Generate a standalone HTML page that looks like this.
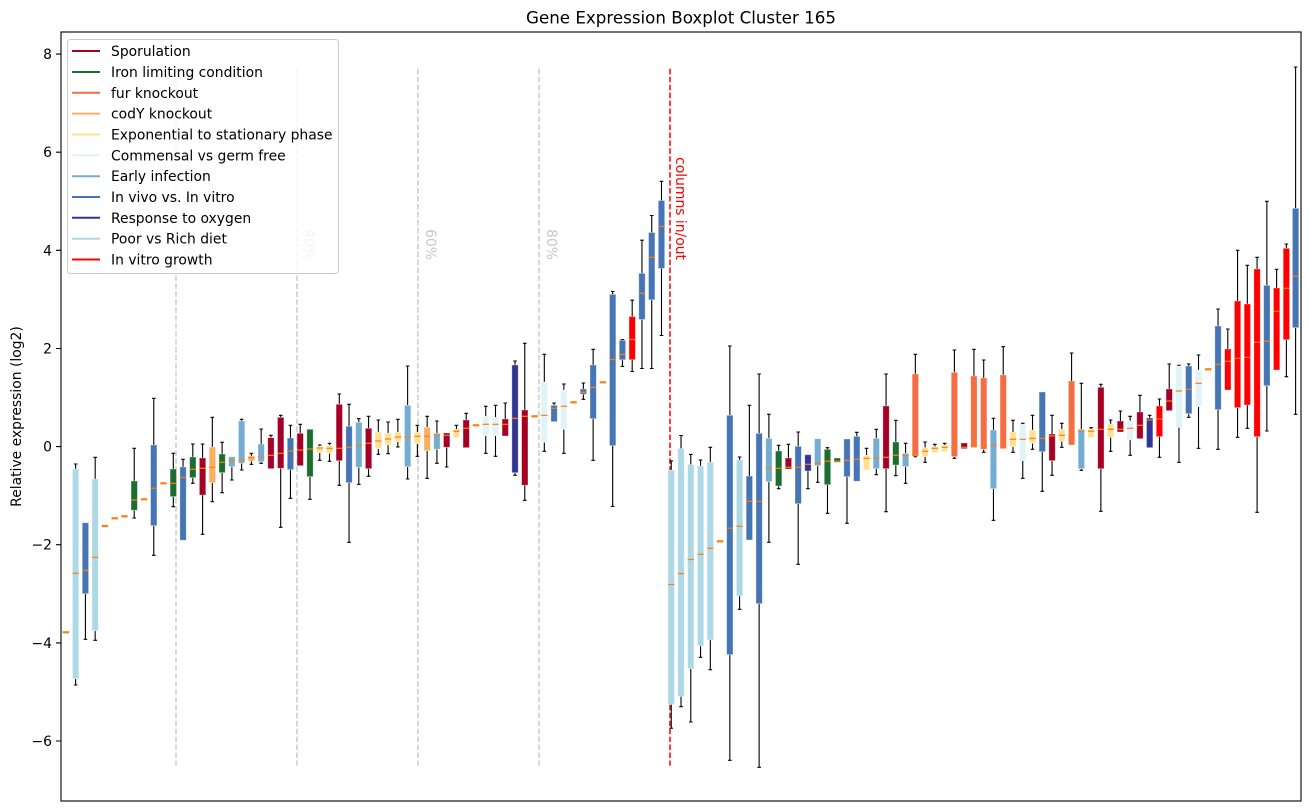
<!DOCTYPE html>
<html><head><meta charset="utf-8"><style>
body{margin:0;background:#fff}
svg{display:block}
text{font-family:"DejaVu Sans","Liberation Sans",sans-serif}
.w{stroke:#000;stroke-width:1.1;fill:none}
.m{stroke:#ff7f0e;stroke-width:1.2;fill:none}
.d{stroke:#ff7f0e;stroke-width:2.2;fill:none}
.b{stroke:#fff;stroke-opacity:.45;stroke-width:.8}
.S{fill:#a50026}.G{fill:#1b6e30}.F{fill:#f46d43}.C{fill:#fdae61}.E{fill:#fee090}.M{fill:#e0f3f8}
.I{fill:#74add1}.V{fill:#4575b4}.O{fill:#313695}.P{fill:#add8e6}.R{fill:#ff0000}
</style></head><body>
<svg width="1309" height="812" viewBox="0 0 1309 812" xmlns="http://www.w3.org/2000/svg">
<rect width="1309" height="812" fill="#fff"/>
<text x="681" y="23.5" font-size="16.7" text-anchor="middle">Gene Expression Boxplot Cluster 165</text>

<g stroke="#cccccc" stroke-width="1.5" stroke-dasharray="5.55 2.4" fill="none">
<path d="M176 68.8V765.6M297 68.8V765.6M418 68.8V765.6M539 68.8V765.6"/>
</g>
<path d="M670 68.8V765.6" stroke="#ff0000" stroke-width="1.5" stroke-dasharray="5.55 2.4" fill="none"/>
<g font-size="13.9" fill="#c8c8c8">
<text transform="translate(184 260) rotate(90)" text-anchor="end">20%</text>
<text transform="translate(305 260) rotate(90)" text-anchor="end">40%</text>
<text transform="translate(426 260) rotate(90)" text-anchor="end">60%</text>
<text transform="translate(547 260) rotate(90)" text-anchor="end">80%</text>
</g>
<text transform="translate(676 260) rotate(90)" text-anchor="end" font-size="13.9" fill="#ff0000">columns in/out</text>

<g>
<g transform="translate(65.88)"><path class="d" d="M-3.2 632.3H3.2"/></g>
<g transform="translate(75.65)"><path class="w" d="M0 464V469M0 678.7V685M-1.8 464h3.6M-1.8 685h3.6"/><path class="b P" d="M-3.2 469H3.2V678.7H-3.2Z"/><path class="m" d="M-3.2 573.3H3.2"/></g>
<g transform="translate(85.41)"><path class="w" d="M0 593.7V639.3M-1.8 639.3h3.6"/><path class="b V" d="M-3.2 522.7H3.2V593.7H-3.2Z"/><path class="m" d="M-3.2 570.3H3.2"/></g>
<g transform="translate(95.18)"><path class="w" d="M0 457.3V479M0 630.7V640.3M-1.8 457.3h3.6M-1.8 640.3h3.6"/><path class="b P" d="M-3.2 479H3.2V630.7H-3.2Z"/><path class="m" d="M-3.2 557.3H3.2"/></g>
<g transform="translate(104.94)"><path class="d" d="M-3.2 526H3.2"/></g>
<g transform="translate(114.70)"><path class="d" d="M-3.2 518.3H3.2"/></g>
<g transform="translate(124.47)"><path class="d" d="M-3.2 516.3H3.2"/></g>
<g transform="translate(134.23)"><path class="w" d="M0 448.3V481M0 510.3V518M-1.8 448.3h3.6M-1.8 518h3.6"/><path class="b G" d="M-3.2 481H3.2V510.3H-3.2Z"/><path class="m" d="M-3.2 500H3.2"/></g>
<g transform="translate(144.00)"><path class="d" d="M-3.2 499.3H3.2"/></g>
<g transform="translate(153.76)"><path class="w" d="M0 398.3V445M0 525.7V555.3M-1.8 398.3h3.6M-1.8 555.3h3.6"/><path class="b V" d="M-3.2 445H3.2V525.7H-3.2Z"/><path class="m" d="M-3.2 488.3H3.2"/></g>
<g transform="translate(163.52)"><path class="d" d="M-3.2 483.3H3.2"/></g>
<g transform="translate(173.29)"><path class="w" d="M0 453.3V469M0 496.7V506.7M-1.8 453.3h3.6M-1.8 506.7h3.6"/><path class="b G" d="M-3.2 469H3.2V496.7H-3.2Z"/><path class="m" d="M-3.2 483.3H3.2"/></g>
<g transform="translate(183.05)"><path class="w" d="M0 459.3V467M-1.8 459.3h3.6"/><path class="b V" d="M-3.2 467H3.2V540.3H-3.2Z"/><path class="m" d="M-3.2 477.3H3.2"/></g>
<g transform="translate(192.82)"><path class="w" d="M0 444V457M0 477.7V483.3M-1.8 444h3.6M-1.8 483.3h3.6"/><path class="b G" d="M-3.2 457H3.2V477.7H-3.2Z"/><path class="m" d="M-3.2 469.3H3.2"/></g>
<g transform="translate(202.58)"><path class="w" d="M0 444V458M0 495V534.3M-1.8 444h3.6M-1.8 534.3h3.6"/><path class="b S" d="M-3.2 458H3.2V495H-3.2Z"/><path class="m" d="M-3.2 468.3H3.2"/></g>
<g transform="translate(212.34)"><path class="w" d="M0 417.3V447M0 482.7V501.7M-1.8 417.3h3.6M-1.8 501.7h3.6"/><path class="b C" d="M-3.2 447H3.2V482.7H-3.2Z"/><path class="m" d="M-3.2 467.3H3.2"/></g>
<g transform="translate(222.11)"><path class="w" d="M0 442.3V454M0 472.7V492.7M-1.8 442.3h3.6M-1.8 492.7h3.6"/><path class="b G" d="M-3.2 454H3.2V472.7H-3.2Z"/><path class="m" d="M-3.2 462.3H3.2"/></g>
<g transform="translate(231.87)"><path class="w" d="M0 466.7V480M-1.8 480h3.6"/><path class="b I" d="M-3.2 456.7H3.2V466.7H-3.2Z"/><path class="m" d="M-3.2 460.3H3.2"/></g>
<g transform="translate(241.64)"><path class="w" d="M0 419.3V421M0 463.3V470M-1.8 419.3h3.6M-1.8 470h3.6"/><path class="b I" d="M-3.2 421H3.2V463.3H-3.2Z"/><path class="m" d="M-3.2 460H3.2"/></g>
<g transform="translate(251.40)"><path class="w" d="M0 453.3V456M0 461V464.3M-1.8 453.3h3.6M-1.8 464.3h3.6"/><path class="b C" d="M-3.2 456H3.2V461H-3.2Z"/><path class="m" d="M-3.2 457.7H3.2"/></g>
<g transform="translate(261.16)"><path class="w" d="M0 429V444M0 461.7V463.3M-1.8 429h3.6M-1.8 463.3h3.6"/><path class="b I" d="M-3.2 444H3.2V461.7H-3.2Z"/><path class="m" d="M-3.2 457H3.2"/></g>
<g transform="translate(270.93)"><path class="w" d="M0 435.3V437.7M-1.8 435.3h3.6"/><path class="b S" d="M-3.2 437.7H3.2V468.7H-3.2Z"/><path class="m" d="M-3.2 455.3H3.2"/></g>
<g transform="translate(280.69)"><path class="w" d="M0 415.3V417.3M0 468.3V527.3M-1.8 415.3h3.6M-1.8 527.3h3.6"/><path class="b S" d="M-3.2 417.3H3.2V468.3H-3.2Z"/><path class="m" d="M-3.2 453.3H3.2"/></g>
<g transform="translate(290.46)"><path class="w" d="M0 425.3V438M0 469.7V498.3M-1.8 425.3h3.6M-1.8 498.3h3.6"/><path class="b V" d="M-3.2 438H3.2V469.7H-3.2Z"/><path class="m" d="M-3.2 451H3.2"/></g>
<g transform="translate(300.22)"><path class="w" d="M0 424.3V433.3M-1.8 424.3h3.6"/><path class="b S" d="M-3.2 433.3H3.2V465.7H-3.2Z"/><path class="m" d="M-3.2 450H3.2"/></g>
<g transform="translate(309.98)"><path class="w" d="M0 476.7V499.3M-1.8 499.3h3.6"/><path class="b G" d="M-3.2 429.3H3.2V476.7H-3.2Z"/><path class="m" d="M-3.2 449H3.2"/></g>
<g transform="translate(319.75)"><path class="w" d="M0 445V446.3M0 452.7V460.3M-1.8 445h3.6M-1.8 460.3h3.6"/><path class="b E" d="M-3.2 446.3H3.2V452.7H-3.2Z"/><path class="m" d="M-3.2 448H3.2"/></g>
<g transform="translate(329.51)"><path class="w" d="M0 443.3V445.3M0 453.3V461.3M-1.8 443.3h3.6M-1.8 461.3h3.6"/><path class="b E" d="M-3.2 445.3H3.2V453.3H-3.2Z"/><path class="m" d="M-3.2 448.3H3.2"/></g>
<g transform="translate(339.28)"><path class="w" d="M0 394V404.3M0 460.7V485.3M-1.8 394h3.6M-1.8 485.3h3.6"/><path class="b S" d="M-3.2 404.3H3.2V460.7H-3.2Z"/><path class="m" d="M-3.2 448.3H3.2"/></g>
<g transform="translate(349.04)"><path class="w" d="M0 404.3V426.3M0 482.7V542.3M-1.8 404.3h3.6M-1.8 542.3h3.6"/><path class="b V" d="M-3.2 426.3H3.2V482.7H-3.2Z"/><path class="m" d="M-3.2 447.3H3.2"/></g>
<g transform="translate(358.80)"><path class="w" d="M0 418.7V422.3M0 467.3V484.3M-1.8 418.7h3.6M-1.8 484.3h3.6"/><path class="b I" d="M-3.2 422.3H3.2V467.3H-3.2Z"/><path class="m" d="M-3.2 445.3H3.2"/></g>
<g transform="translate(368.57)"><path class="w" d="M0 416.3V428.3M0 468.7V476.3M-1.8 416.3h3.6M-1.8 476.3h3.6"/><path class="b S" d="M-3.2 428.3H3.2V468.7H-3.2Z"/><path class="m" d="M-3.2 443.3H3.2"/></g>
<g transform="translate(378.33)"><path class="w" d="M0 420V432M0 448.7V454.3M-1.8 420h3.6M-1.8 454.3h3.6"/><path class="b E" d="M-3.2 432H3.2V448.7H-3.2Z"/><path class="m" d="M-3.2 441H3.2"/></g>
<g transform="translate(388.10)"><path class="w" d="M0 422V433.3M0 445V453.7M-1.8 422h3.6M-1.8 453.7h3.6"/><path class="b E" d="M-3.2 433.3H3.2V445H-3.2Z"/><path class="m" d="M-3.2 439H3.2"/></g>
<g transform="translate(397.86)"><path class="w" d="M0 419.3V432.3M0 441.7V447M-1.8 419.3h3.6M-1.8 447h3.6"/><path class="b E" d="M-3.2 432.3H3.2V441.7H-3.2Z"/><path class="m" d="M-3.2 437H3.2"/></g>
<g transform="translate(407.62)"><path class="w" d="M0 366V405.3M0 466.7V479M-1.8 366h3.6M-1.8 479h3.6"/><path class="b I" d="M-3.2 405.3H3.2V466.7H-3.2Z"/><path class="m" d="M-3.2 437.3H3.2"/></g>
<g transform="translate(417.39)"><path class="w" d="M0 425.3V432.3M0 443.7V456.3M-1.8 425.3h3.6M-1.8 456.3h3.6"/><path class="b E" d="M-3.2 432.3H3.2V443.7H-3.2Z"/><path class="m" d="M-3.2 436.3H3.2"/></g>
<g transform="translate(427.15)"><path class="w" d="M0 416.3V427.3M0 450.7V478.3M-1.8 416.3h3.6M-1.8 478.3h3.6"/><path class="b C" d="M-3.2 427.3H3.2V450.7H-3.2Z"/><path class="m" d="M-3.2 436.3H3.2"/></g>
<g transform="translate(436.92)"><path class="w" d="M0 421V433.3M0 449.3V463.3M-1.8 421h3.6M-1.8 463.3h3.6"/><path class="b I" d="M-3.2 433.3H3.2V449.3H-3.2Z"/><path class="m" d="M-3.2 435.3H3.2"/></g>
<g transform="translate(446.68)"><path class="w" d="M0 447.3V467M-1.8 467h3.6"/><path class="b S" d="M-3.2 433H3.2V447.3H-3.2Z"/><path class="m" d="M-3.2 435.3H3.2"/></g>
<g transform="translate(456.44)"><path class="w" d="M0 425.3V429M-1.8 425.3h3.6"/><path class="b E" d="M-3.2 429H3.2V437.7H-3.2Z"/><path class="m" d="M-3.2 431.3H3.2"/></g>
<g transform="translate(466.21)"><path class="w" d="M0 413.3V420M-1.8 413.3h3.6"/><path class="b S" d="M-3.2 420H3.2V447.7H-3.2Z"/><path class="m" d="M-3.2 428.3H3.2"/></g>
<g transform="translate(475.97)"><path class="d" d="M-3.2 425.3H3.2"/></g>
<g transform="translate(485.74)"><path class="w" d="M0 406.3V416.3M0 435.7V453.3M-1.8 406.3h3.6M-1.8 453.3h3.6"/><path class="b M" d="M-3.2 416.3H3.2V435.7H-3.2Z"/><path class="m" d="M-3.2 424.3H3.2"/></g>
<g transform="translate(495.50)"><path class="w" d="M0 405.3V417.3M0 435.7V456.3M-1.8 405.3h3.6M-1.8 456.3h3.6"/><path class="b M" d="M-3.2 417.3H3.2V435.7H-3.2Z"/><path class="m" d="M-3.2 424.3H3.2"/></g>
<g transform="translate(505.26)"><path class="w" d="M0 403V419M-1.8 403h3.6"/><path class="b S" d="M-3.2 419H3.2V436H-3.2Z"/><path class="m" d="M-3.2 424.3H3.2"/></g>
<g transform="translate(515.03)"><path class="w" d="M0 361V365M0 472.7V475.3M-1.8 361h3.6M-1.8 475.3h3.6"/><path class="b O" d="M-3.2 365H3.2V472.7H-3.2Z"/><path class="m" d="M-3.2 418.3H3.2"/></g>
<g transform="translate(524.79)"><path class="w" d="M0 343.3V410M0 485.3V500.3M-1.8 343.3h3.6M-1.8 500.3h3.6"/><path class="b S" d="M-3.2 410H3.2V485.3H-3.2Z"/><path class="m" d="M-3.2 416.3H3.2"/></g>
<g transform="translate(534.56)"><path class="d" d="M-3.2 416.3H3.2"/></g>
<g transform="translate(544.32)"><path class="w" d="M0 354.3V382M0 442.3V451.3M-1.8 354.3h3.6M-1.8 451.3h3.6"/><path class="b M" d="M-3.2 382H3.2V442.3H-3.2Z"/><path class="m" d="M-3.2 415.3H3.2"/></g>
<g transform="translate(554.08)"><path class="w" d="M0 403V405.3M-1.8 403h3.6"/><path class="b V" d="M-3.2 405.3H3.2V421.7H-3.2Z"/><path class="m" d="M-3.2 408.3H3.2"/></g>
<g transform="translate(563.85)"><path class="w" d="M0 384V390M0 429.3V453.3M-1.8 384h3.6M-1.8 453.3h3.6"/><path class="b M" d="M-3.2 390H3.2V429.3H-3.2Z"/><path class="m" d="M-3.2 406.3H3.2"/></g>
<g transform="translate(573.61)"><path class="d" d="M-3.2 402.3H3.2"/></g>
<g transform="translate(583.38)"><path class="w" d="M0 383V389M0 394.3V399.3M-1.8 383h3.6M-1.8 399.3h3.6"/><path class="b V" d="M-3.2 389H3.2V394.3H-3.2Z"/><path class="m" d="M-3.2 392.3H3.2"/></g>
<g transform="translate(593.14)"><path class="w" d="M0 349.3V365M0 418.7V460.3M-1.8 349.3h3.6M-1.8 460.3h3.6"/><path class="b V" d="M-3.2 365H3.2V418.7H-3.2Z"/><path class="m" d="M-3.2 387.3H3.2"/></g>
<g transform="translate(602.90)"><path class="d" d="M-3.2 382.3H3.2"/></g>
<g transform="translate(612.67)"><path class="w" d="M0 291.5V294.4M0 445.6V506.4M-1.8 291.5h3.6M-1.8 506.4h3.6"/><path class="b V" d="M-3.2 294.4H3.2V445.6H-3.2Z"/><path class="m" d="M-3.2 359.5H3.2"/></g>
<g transform="translate(622.43)"><path class="w" d="M0 339.5V340.2M0 359.8V366.4M-1.8 339.5h3.6M-1.8 366.4h3.6"/><path class="b V" d="M-3.2 340.2H3.2V359.8H-3.2Z"/><path class="m" d="M-3.2 354.4H3.2"/></g>
<g transform="translate(632.20)"><path class="w" d="M0 300.2V316.5M0 359.8V371.5M-1.8 300.2h3.6M-1.8 371.5h3.6"/><path class="b R" d="M-3.2 316.5H3.2V359.8H-3.2Z"/><path class="m" d="M-3.2 339.5H3.2"/></g>
<g transform="translate(641.96)"><path class="w" d="M0 240.2V273.3M0 319.5V368.5M-1.8 240.2h3.6M-1.8 368.5h3.6"/><path class="b V" d="M-3.2 273.3H3.2V319.5H-3.2Z"/><path class="m" d="M-3.2 293.3H3.2"/></g>
<g transform="translate(651.72)"><path class="w" d="M0 215.5V232.5M0 299.8V368.5M-1.8 215.5h3.6M-1.8 368.5h3.6"/><path class="b V" d="M-3.2 232.5H3.2V299.8H-3.2Z"/><path class="m" d="M-3.2 257.3H3.2"/></g>
<g transform="translate(661.49)"><path class="w" d="M0 181.3V200.5M0 268.5V335.5M-1.8 181.3h3.6M-1.8 335.5h3.6"/><path class="b V" d="M-3.2 200.5H3.2V268.5H-3.2Z"/><path class="m" d="M-3.2 226.4H3.2"/></g>
<g transform="translate(671.25)"><path class="w" d="M0 460.9V470M0 704.5V728.2M-1.8 460.9h3.6M-1.8 728.2h3.6"/><path class="b P" d="M-3.2 470H3.2V704.5H-3.2Z"/><path class="m" d="M-3.2 584.5H3.2"/></g>
<g transform="translate(681.02)"><path class="w" d="M0 435.5V448.5M0 696.5V706.7M-1.8 435.5h3.6M-1.8 706.7h3.6"/><path class="b P" d="M-3.2 448.5H3.2V696.5H-3.2Z"/><path class="m" d="M-3.2 573.6H3.2"/></g>
<g transform="translate(690.78)"><path class="w" d="M0 454.4V464.5M0 668.9V722M-1.8 454.4h3.6M-1.8 722h3.6"/><path class="b P" d="M-3.2 464.5H3.2V668.9H-3.2Z"/><path class="m" d="M-3.2 559.5H3.2"/></g>
<g transform="translate(700.54)"><path class="w" d="M0 460V466M0 645.7V657.3M-1.8 460h3.6M-1.8 657.3h3.6"/><path class="b P" d="M-3.2 466H3.2V645.7H-3.2Z"/><path class="m" d="M-3.2 554.3H3.2"/></g>
<g transform="translate(710.31)"><path class="w" d="M0 447.3V462.3M0 640V669.7M-1.8 447.3h3.6M-1.8 669.7h3.6"/><path class="b P" d="M-3.2 462.3H3.2V640H-3.2Z"/><path class="m" d="M-3.2 548.3H3.2"/></g>
<g transform="translate(720.07)"><path class="d" d="M-3.2 541.3H3.2"/></g>
<g transform="translate(729.84)"><path class="w" d="M0 346V415.3M0 654.7V760.3M-1.8 346h3.6M-1.8 760.3h3.6"/><path class="b V" d="M-3.2 415.3H3.2V654.7H-3.2Z"/><path class="m" d="M-3.2 528.3H3.2"/></g>
<g transform="translate(739.60)"><path class="w" d="M0 457V460M0 596V609.3M-1.8 457h3.6M-1.8 609.3h3.6"/><path class="b P" d="M-3.2 460H3.2V596H-3.2Z"/><path class="m" d="M-3.2 526.3H3.2"/></g>
<g transform="translate(749.36)"><path class="w" d="M0 405.3V476M-1.8 405.3h3.6"/><path class="b V" d="M-3.2 476H3.2V540H-3.2Z"/><path class="m" d="M-3.2 501.3H3.2"/></g>
<g transform="translate(759.13)"><path class="w" d="M0 374V433.3M0 603.7V767.3M-1.8 374h3.6M-1.8 767.3h3.6"/><path class="b V" d="M-3.2 433.3H3.2V603.7H-3.2Z"/><path class="m" d="M-3.2 501.3H3.2"/></g>
<g transform="translate(768.89)"><path class="w" d="M0 414.3V438.3M0 481.7V542.3M-1.8 414.3h3.6M-1.8 542.3h3.6"/><path class="b I" d="M-3.2 438.3H3.2V481.7H-3.2Z"/><path class="m" d="M-3.2 468.3H3.2"/></g>
<g transform="translate(778.66)"><path class="w" d="M0 445.3V451M0 486V488.7M-1.8 445.3h3.6M-1.8 488.7h3.6"/><path class="b G" d="M-3.2 451H3.2V486H-3.2Z"/><path class="m" d="M-3.2 468.3H3.2"/></g>
<g transform="translate(788.42)"><path class="w" d="M0 444.3V458M-1.8 444.3h3.6"/><path class="b S" d="M-3.2 458H3.2V469H-3.2Z"/><path class="m" d="M-3.2 467.3H3.2"/></g>
<g transform="translate(798.18)"><path class="w" d="M0 432V446.3M0 503.7V564.3M-1.8 432h3.6M-1.8 564.3h3.6"/><path class="b V" d="M-3.2 446.3H3.2V503.7H-3.2Z"/><path class="m" d="M-3.2 467.3H3.2"/></g>
<g transform="translate(807.95)"><path class="w" d="M0 471V488.7M-1.8 488.7h3.6"/><path class="b O" d="M-3.2 454.7H3.2V471H-3.2Z"/><path class="m" d="M-3.2 464.3H3.2"/></g>
<g transform="translate(817.71)"><path class="w" d="M0 465.7V482.3M-1.8 482.3h3.6"/><path class="b I" d="M-3.2 438.7H3.2V465.7H-3.2Z"/><path class="m" d="M-3.2 463.7H3.2"/></g>
<g transform="translate(827.48)"><path class="w" d="M0 447.7V449.3M0 484.7V513.3M-1.8 447.7h3.6M-1.8 513.3h3.6"/><path class="b G" d="M-3.2 449.3H3.2V484.7H-3.2Z"/><path class="m" d="M-3.2 461.3H3.2"/></g>
<g transform="translate(837.24)"><path class="b G" d="M-3.2 458H3.2V462.3H-3.2Z"/><path class="m" d="M-3.2 461.3H3.2"/></g>
<g transform="translate(847.00)"><path class="w" d="M0 476.7V523.3M-1.8 523.3h3.6"/><path class="b V" d="M-3.2 439H3.2V476.7H-3.2Z"/><path class="m" d="M-3.2 460.3H3.2"/></g>
<g transform="translate(856.77)"><path class="w" d="M0 432.3V436.3M-1.8 432.3h3.6"/><path class="b V" d="M-3.2 436.3H3.2V481.3H-3.2Z"/><path class="m" d="M-3.2 459.3H3.2"/></g>
<g transform="translate(866.53)"><path class="w" d="M0 448.3V455.3M-1.8 448.3h3.6"/><path class="b E" d="M-3.2 455.3H3.2V470H-3.2Z"/><path class="m" d="M-3.2 458.3H3.2"/></g>
<g transform="translate(876.30)"><path class="w" d="M0 429.3V438.3M0 468.7V474.7M-1.8 429.3h3.6M-1.8 474.7h3.6"/><path class="b I" d="M-3.2 438.3H3.2V468.7H-3.2Z"/><path class="m" d="M-3.2 458.3H3.2"/></g>
<g transform="translate(886.06)"><path class="w" d="M0 374V406M0 468.7V511.7M-1.8 374h3.6M-1.8 511.7h3.6"/><path class="b S" d="M-3.2 406H3.2V468.7H-3.2Z"/><path class="m" d="M-3.2 457.3H3.2"/></g>
<g transform="translate(895.82)"><path class="w" d="M0 420.3V442M0 465V475.7M-1.8 420.3h3.6M-1.8 475.7h3.6"/><path class="b G" d="M-3.2 442H3.2V465H-3.2Z"/><path class="m" d="M-3.2 455.3H3.2"/></g>
<g transform="translate(905.59)"><path class="w" d="M0 443.3V453.3M0 466.7V483.3M-1.8 443.3h3.6M-1.8 483.3h3.6"/><path class="b I" d="M-3.2 453.3H3.2V466.7H-3.2Z"/><path class="m" d="M-3.2 455.7H3.2"/></g>
<g transform="translate(915.35)"><path class="w" d="M0 354.3V374M0 456V456.7M-1.8 354.3h3.6M-1.8 456.7h3.6"/><path class="b F" d="M-3.2 374H3.2V456H-3.2Z"/><path class="m" d="M-3.2 455.3H3.2"/></g>
<g transform="translate(925.12)"><path class="w" d="M0 442V447.7M0 456.7V462.3M-1.8 442h3.6M-1.8 462.3h3.6"/><path class="b E" d="M-3.2 447.7H3.2V456.7H-3.2Z"/><path class="m" d="M-3.2 451.3H3.2"/></g>
<g transform="translate(934.88)"><path class="w" d="M0 444.3V446.7M-1.8 444.3h3.6"/><path class="b E" d="M-3.2 446.7H3.2V452.7H-3.2Z"/><path class="m" d="M-3.2 448.3H3.2"/></g>
<g transform="translate(944.64)"><path class="w" d="M0 443.3V445M-1.8 443.3h3.6"/><path class="b E" d="M-3.2 445H3.2V451.7H-3.2Z"/><path class="m" d="M-3.2 447.3H3.2"/></g>
<g transform="translate(954.41)"><path class="w" d="M0 350V372.3M0 456.7V458.3M-1.8 350h3.6M-1.8 458.3h3.6"/><path class="b F" d="M-3.2 372.3H3.2V456.7H-3.2Z"/><path class="m" d="M-3.2 447.3H3.2"/></g>
<g transform="translate(964.17)"><path class="b S" d="M-3.2 443H3.2V448.7H-3.2Z"/><path class="m" d="M-3.2 447.3H3.2"/></g>
<g transform="translate(973.94)"><path class="w" d="M0 349.3V376M-1.8 349.3h3.6"/><path class="b F" d="M-3.2 376H3.2V447.3H-3.2Z"/><path class="m" d="M-3.2 446.7H3.2"/></g>
<g transform="translate(983.70)"><path class="w" d="M0 360V378M0 449.3V452.3M-1.8 360h3.6M-1.8 452.3h3.6"/><path class="b F" d="M-3.2 378H3.2V449.3H-3.2Z"/><path class="m" d="M-3.2 445.3H3.2"/></g>
<g transform="translate(993.46)"><path class="w" d="M0 418.3V430M0 488.7V520.3M-1.8 418.3h3.6M-1.8 520.3h3.6"/><path class="b I" d="M-3.2 430H3.2V488.7H-3.2Z"/><path class="m" d="M-3.2 445.3H3.2"/></g>
<g transform="translate(1003.23)"><path class="w" d="M0 346.7V375M-1.8 346.7h3.6"/><path class="b F" d="M-3.2 375H3.2V448.7H-3.2Z"/><path class="m" d="M-3.2 442.3H3.2"/></g>
<g transform="translate(1012.99)"><path class="w" d="M0 420.3V432M0 446.7V452.3M-1.8 420.3h3.6M-1.8 452.3h3.6"/><path class="b E" d="M-3.2 432H3.2V446.7H-3.2Z"/><path class="m" d="M-3.2 439.3H3.2"/></g>
<g transform="translate(1022.76)"><path class="w" d="M0 423.3V424.3M0 460.7V478.3M-1.8 423.3h3.6M-1.8 478.3h3.6"/><path class="b M" d="M-3.2 424.3H3.2V460.7H-3.2Z"/><path class="m" d="M-3.2 439.3H3.2"/></g>
<g transform="translate(1032.52)"><path class="w" d="M0 415.3V430M0 443.3V449.3M-1.8 415.3h3.6M-1.8 449.3h3.6"/><path class="b E" d="M-3.2 430H3.2V443.3H-3.2Z"/><path class="m" d="M-3.2 438.3H3.2"/></g>
<g transform="translate(1042.28)"><path class="w" d="M0 451.7V491.3M-1.8 491.3h3.6"/><path class="b V" d="M-3.2 392H3.2V451.7H-3.2Z"/><path class="m" d="M-3.2 438.3H3.2"/></g>
<g transform="translate(1052.05)"><path class="w" d="M0 415.3V434M0 460.7V475.3M-1.8 415.3h3.6M-1.8 475.3h3.6"/><path class="b S" d="M-3.2 434H3.2V460.7H-3.2Z"/><path class="m" d="M-3.2 436H3.2"/></g>
<g transform="translate(1061.81)"><path class="w" d="M0 423.3V429.3M0 441.3V447.3M-1.8 423.3h3.6M-1.8 447.3h3.6"/><path class="b E" d="M-3.2 429.3H3.2V441.3H-3.2Z"/><path class="m" d="M-3.2 435.3H3.2"/></g>
<g transform="translate(1071.58)"><path class="w" d="M0 353V381M-1.8 353h3.6"/><path class="b F" d="M-3.2 381H3.2V445H-3.2Z"/><path class="m" d="M-3.2 435.3H3.2"/></g>
<g transform="translate(1081.34)"><path class="w" d="M0 383.3V429.3M0 468.7V470.3M-1.8 383.3h3.6M-1.8 470.3h3.6"/><path class="b I" d="M-3.2 429.3H3.2V468.7H-3.2Z"/><path class="m" d="M-3.2 431.3H3.2"/></g>
<g transform="translate(1091.10)"><path class="w" d="M0 427.7V429M-1.8 427.7h3.6"/><path class="b E" d="M-3.2 429H3.2V437.7H-3.2Z"/><path class="m" d="M-3.2 431.3H3.2"/></g>
<g transform="translate(1100.87)"><path class="w" d="M0 384.3V387.3M0 468.7V511.3M-1.8 384.3h3.6M-1.8 511.3h3.6"/><path class="b S" d="M-3.2 387.3H3.2V468.7H-3.2Z"/><path class="m" d="M-3.2 429.3H3.2"/></g>
<g transform="translate(1110.63)"><path class="w" d="M0 420V424M0 437.3V451.3M-1.8 420h3.6M-1.8 451.3h3.6"/><path class="b E" d="M-3.2 424H3.2V437.3H-3.2Z"/><path class="m" d="M-3.2 429.3H3.2"/></g>
<g transform="translate(1120.40)"><path class="w" d="M0 411V421M-1.8 411h3.6"/><path class="b S" d="M-3.2 421H3.2V432H-3.2Z"/><path class="m" d="M-3.2 429.3H3.2"/></g>
<g transform="translate(1130.16)"><path class="w" d="M0 416.3V421M0 440V455.3M-1.8 416.3h3.6M-1.8 455.3h3.6"/><path class="b M" d="M-3.2 421H3.2V440H-3.2Z"/><path class="m" d="M-3.2 428.3H3.2"/></g>
<g transform="translate(1139.92)"><path class="w" d="M0 395.3V412M-1.8 395.3h3.6"/><path class="b S" d="M-3.2 412H3.2V438.7H-3.2Z"/><path class="m" d="M-3.2 425.3H3.2"/></g>
<g transform="translate(1149.69)"><path class="w" d="M0 415.3V418M-1.8 415.3h3.6"/><path class="b O" d="M-3.2 418H3.2V447.7H-3.2Z"/><path class="m" d="M-3.2 420H3.2"/></g>
<g transform="translate(1159.45)"><path class="w" d="M0 399V406M0 436.7V457.3M-1.8 399h3.6M-1.8 457.3h3.6"/><path class="b R" d="M-3.2 406H3.2V436.7H-3.2Z"/><path class="m" d="M-3.2 419H3.2"/></g>
<g transform="translate(1169.22)"><path class="w" d="M0 364V389M-1.8 364h3.6"/><path class="b S" d="M-3.2 389H3.2V410.7H-3.2Z"/><path class="m" d="M-3.2 401H3.2"/></g>
<g transform="translate(1178.98)"><path class="w" d="M0 365.3V366M0 427.3V462.3M-1.8 365.3h3.6M-1.8 462.3h3.6"/><path class="b M" d="M-3.2 366H3.2V427.3H-3.2Z"/><path class="m" d="M-3.2 391H3.2"/></g>
<g transform="translate(1188.74)"><path class="w" d="M0 364V366M0 413.7V417.3M-1.8 364h3.6M-1.8 417.3h3.6"/><path class="b V" d="M-3.2 366H3.2V413.7H-3.2Z"/><path class="m" d="M-3.2 389.3H3.2"/></g>
<g transform="translate(1198.51)"><path class="w" d="M0 355V370M0 406.7V448.3M-1.8 355h3.6M-1.8 448.3h3.6"/><path class="b M" d="M-3.2 370H3.2V406.7H-3.2Z"/><path class="m" d="M-3.2 383.3H3.2"/></g>
<g transform="translate(1208.27)"><path class="d" d="M-3.2 369.3H3.2"/></g>
<g transform="translate(1218.04)"><path class="w" d="M0 309V326M0 409.7V449.3M-1.8 309h3.6M-1.8 449.3h3.6"/><path class="b V" d="M-3.2 326H3.2V409.7H-3.2Z"/><path class="m" d="M-3.2 364.3H3.2"/></g>
<g transform="translate(1227.80)"><path class="w" d="M0 329V349M-1.8 329h3.6"/><path class="b R" d="M-3.2 349H3.2V390H-3.2Z"/><path class="m" d="M-3.2 361.3H3.2"/></g>
<g transform="translate(1237.56)"><path class="w" d="M0 250.3V301M0 407.7V437.3M-1.8 250.3h3.6M-1.8 437.3h3.6"/><path class="b R" d="M-3.2 301H3.2V407.7H-3.2Z"/><path class="m" d="M-3.2 358.3H3.2"/></g>
<g transform="translate(1247.33)"><path class="w" d="M0 265.3V304M0 405V428.3M-1.8 265.3h3.6M-1.8 428.3h3.6"/><path class="b R" d="M-3.2 304H3.2V405H-3.2Z"/><path class="m" d="M-3.2 357.3H3.2"/></g>
<g transform="translate(1257.09)"><path class="w" d="M0 257.3V269M0 436.7V512.3M-1.8 257.3h3.6M-1.8 512.3h3.6"/><path class="b R" d="M-3.2 269H3.2V436.7H-3.2Z"/><path class="m" d="M-3.2 342.3H3.2"/></g>
<g transform="translate(1266.86)"><path class="w" d="M0 201.3V285.3M0 385.7V431M-1.8 201.3h3.6M-1.8 431h3.6"/><path class="b V" d="M-3.2 285.3H3.2V385.7H-3.2Z"/><path class="m" d="M-3.2 341.3H3.2"/></g>
<g transform="translate(1276.62)"><path class="w" d="M0 269.3V288M-1.8 269.3h3.6"/><path class="b R" d="M-3.2 288H3.2V370H-3.2Z"/><path class="m" d="M-3.2 311.3H3.2"/></g>
<g transform="translate(1286.38)"><path class="w" d="M0 244V248.3M0 339.7V376.7M-1.8 244h3.6M-1.8 376.7h3.6"/><path class="b R" d="M-3.2 248.3H3.2V339.7H-3.2Z"/><path class="m" d="M-3.2 288.3H3.2"/></g>
<g transform="translate(1295.6)"><path class="w" d="M0 67V208.3M0 327.7V414.3M-1.8 67h3.6M-1.8 414.3h3.6"/><path class="b V" d="M-3.2 208.3H3.2V327.7H-3.2Z"/><path class="m" d="M-3.2 276.3H3.2"/></g>
</g>

<rect x="61" y="32" width="1240" height="769" fill="none" stroke="#000" stroke-width="1.1"/>
<g stroke="#000" stroke-width="1.1">
<path d="M56 54.04H61M56 152.2H61M56 250.3H61M56 348.5H61M56 446.6H61M56 544.7H61M56 642.9H61M56 741H61"/>
</g>
<g font-size="13.9" text-anchor="end">
<text x="52" y="59">8</text>
<text x="52" y="157.2">6</text>
<text x="52" y="255.3">4</text>
<text x="52" y="353.5">2</text>
<text x="52" y="451.6">0</text>
<text x="52" y="549.7">−2</text>
<text x="52" y="647.9">−4</text>
<text x="52" y="746">−6</text>
</g>
<text transform="translate(21 416.5) rotate(-90)" font-size="13.9" text-anchor="middle">Relative expression (log2)</text>

<rect x="67.5" y="39.5" width="271" height="234" rx="3" fill="#fff" fill-opacity="0.8" stroke="#cccccc" stroke-width="1"/>
<g stroke-width="2" fill="none">
<path d="M72 51H100" stroke="#a50026"/>
<path d="M72 72H100" stroke="#1b6e30"/>
<path d="M72 92.8H100" stroke="#f46d43"/>
<path d="M72 113.6H100" stroke="#fdae61"/>
<path d="M72 134.5H100" stroke="#fee090"/>
<path d="M72 155.3H100" stroke="#e0f3f8"/>
<path d="M72 176.2H100" stroke="#74add1"/>
<path d="M72 197H100" stroke="#4575b4"/>
<path d="M72 217.8H100" stroke="#313695"/>
<path d="M72 238.7H100" stroke="#add8e6"/>
<path d="M72 259.5H100" stroke="#ff0000"/>
</g>
<g font-size="13.9" fill="#000">
<text x="111" y="56">Sporulation</text>
<text x="111" y="77">Iron limiting condition</text>
<text x="111" y="97.8">fur knockout</text>
<text x="111" y="118.6">codY knockout</text>
<text x="111" y="139.5">Exponential to stationary phase</text>
<text x="111" y="160.3">Commensal vs germ free</text>
<text x="111" y="181.2">Early infection</text>
<text x="111" y="202">In vivo vs. In vitro</text>
<text x="111" y="222.8">Response to oxygen</text>
<text x="111" y="243.7">Poor vs Rich diet</text>
<text x="111" y="264.5">In vitro growth</text>
</g>
</svg>
</body></html>
